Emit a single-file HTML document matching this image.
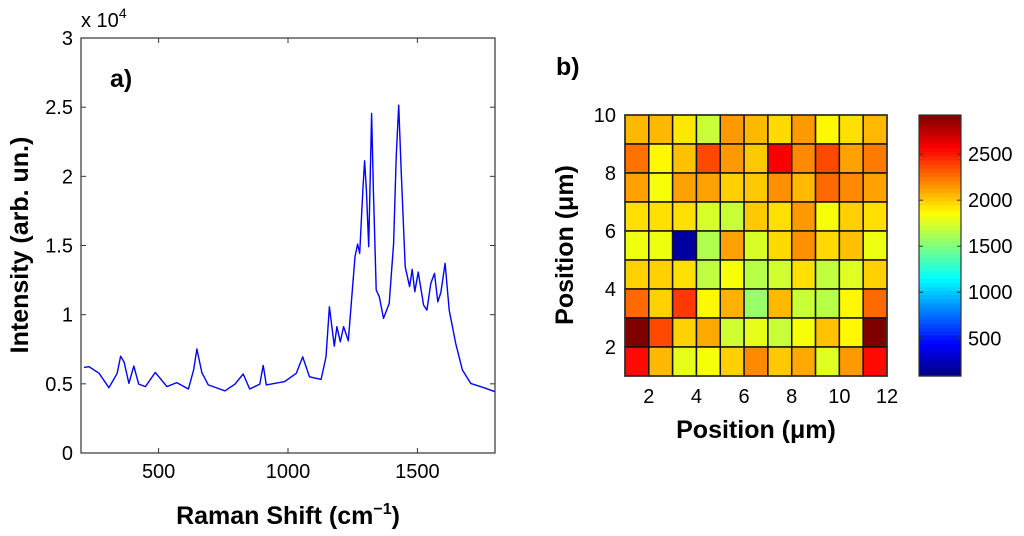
<!DOCTYPE html>
<html><head><meta charset="utf-8">
<style>
html,body{margin:0;padding:0;background:#fff;}
svg text{font-family:"Liberation Sans",Arial,sans-serif;fill:#000;}
.tk{font-size:20px;}
.bt{font-size:25px;font-weight:bold;}
</style></head>
<body>
<svg id="fig" width="1024" height="531" viewBox="0 0 1024 531" xmlns="http://www.w3.org/2000/svg"></svg>
<script>
// ---- Spectrum data ----
const shifts = [212,231,270,308,340,353,366,385,404,423,449,487,532,570,615,635,648,667,692,756,795,827,852,891,904,916,987,1032,1057,1083,1128,1147,1160,1179,1189,1202,1215,1233,1259,1269,1277,1290,1296,1303,1312,1318,1323,1330,1341,1353,1369,1391,1408,1418,1428,1438,1453,1470,1480,1490,1503,1524,1537,1552,1566,1579,1591,1607,1623,1648,1674,1706,1757,1800];
const intensities = [0.619,0.624,0.576,0.472,0.576,0.70,0.66,0.503,0.628,0.498,0.480,0.583,0.480,0.509,0.463,0.600,0.752,0.583,0.492,0.449,0.498,0.571,0.463,0.498,0.633,0.492,0.516,0.576,0.695,0.551,0.532,0.695,1.057,0.772,0.913,0.804,0.913,0.811,1.419,1.510,1.443,1.92,2.112,1.90,1.491,2.02,2.454,1.90,1.178,1.130,0.973,1.081,1.515,2.14,2.514,2.02,1.347,1.202,1.327,1.166,1.308,1.069,1.033,1.226,1.298,1.093,1.161,1.371,1.033,0.792,0.600,0.503,0.472,0.443];
const xTicksA = [500,1000,1500];
const yTicksA = [0,0.5,1,1.5,2,2.5,3];
const yTickLabelsA = ["0","0.5","1","1.5","2","2.5","3"];

// ---- Heatmap data (rows top=y 9-10 to bottom=y 1-2) ----
const mapRows = [
 [2057,2057,1925,1708,2145,2057,1968,2145,1882,1947,2057],
 [2254,1882,2035,2368,2145,2012,2587,2190,2368,2124,2232],
 [2124,1840,2124,2124,1990,2012,2167,2057,2277,2190,2124],
 [1947,1947,1947,1752,1708,2012,1947,2145,1840,1990,1947],
 [1818,1818,180,1643,2124,1752,1968,2167,1968,2035,1818],
 [1990,1990,1947,1686,1840,1665,1731,1947,1686,1774,1990],
 [2277,1990,2411,1882,2080,1575,2057,1708,1665,1882,2277],
 [2940,2368,1990,2100,1731,1796,1708,1840,2035,1882,2940],
 [2542,2057,1796,1840,1990,2190,2012,2100,1774,2145,2542]
];
const xTicksB = [2,4,6,8,10,12];
const yTicksB = [2,4,6,8,10];
const cbTicks = [500,1000,1500,2000,2500];
const cRange = [90,2925];

const NS="http://www.w3.org/2000/svg";
const svg=document.getElementById('fig');
function mk(tag,attrs,parent){const e=document.createElementNS(NS,tag);for(const k in attrs)e.setAttribute(k,attrs[k]);(parent||svg).appendChild(e);return e;}
function txt(s,attrs,parent){const e=mk('text',attrs,parent);e.textContent=s;return e;}

const A={x0:81,x1:495,y0:453,y1:38};
const ax=v=>A.x0+(v-200)/(1800-200)*(A.x1-A.x0);
const ay=v=>A.y0-(v/3)*(A.y0-A.y1);

const gA=mk('g',{});


let d='';
for(let i=0;i<shifts.length;i++){d+=(i?'L':'M')+ax(shifts[i]).toFixed(1)+' '+ay(intensities[i]).toFixed(1);}
const line=mk('path',{d:d,fill:'none',stroke:'#0000ff','stroke-width':1.4,'stroke-linejoin':'round'},gA);


const boxA=mk('rect',{x:A.x0,y:A.y1,width:A.x1-A.x0,height:A.y0-A.y1,fill:'none',stroke:'#333','stroke-width':1.2},gA);


xTicksA.forEach(v=>{
  const x=ax(v);
  mk('line',{x1:x,x2:x,y1:A.y0,y2:A.y0-5,stroke:'#333'},gA);
  mk('line',{x1:x,x2:x,y1:A.y1,y2:A.y1+5,stroke:'#333'},gA);
  const t=txt(String(v),{x:x,y:478,'text-anchor':'middle',class:'tk'},gA);
  
  
});
yTicksA.forEach((v,i)=>{
  const y=ay(v);
  mk('line',{x1:A.x0,x2:A.x0+5,y1:y,y2:y,stroke:'#333'},gA);
  mk('line',{x1:A.x1,x2:A.x1-5,y1:y,y2:y,stroke:'#333'},gA);
  const t=txt(yTickLabelsA[i],{x:73,y:y+7,'text-anchor':'end',class:'tk'},gA);
  
  
});
</script>
<script>
(function(){
const svg=document.getElementById('fig');
svg.insertAdjacentHTML('beforeend',`
<text x="81" y="27" class="tk">x 10<tspan dy="-9" font-size="14">4</tspan></text>
<text x="110" y="87" class="bt">a)</text>
<text transform="translate(28,245) rotate(-90)" text-anchor="middle" class="bt">Intensity (arb. un.)</text>
<text x="288" y="524" text-anchor="middle" class="bt">Raman Shift (cm<tspan dy="-10" font-size="16">−1</tspan><tspan dy="10">)</tspan></text>
<text x="556" y="75" class="bt">b)</text>
<text transform="translate(573,245) rotate(-90)" text-anchor="middle" class="bt">Position (μm)</text>
<text x="756" y="438" text-anchor="middle" class="bt">Position (μm)</text>
`);
})();
</script>
<script>
(function(){
const svg=document.getElementById('fig');
function mk(tag,attrs,parent){const e=document.createElementNS("http://www.w3.org/2000/svg",tag);for(const k in attrs)e.setAttribute(k,attrs[k]);(parent||svg).appendChild(e);return e;}
function txt(s,attrs,parent){const e=mk('text',attrs,parent);e.textContent=s;return e;}
function jet(t){t=Math.max(0,Math.min(1,t));
  const c=x=>Math.round(255*Math.max(0,Math.min(1,x)));
  return `rgb(${c(Math.min(4*t-1.5,-4*t+4.5))},${c(Math.min(4*t-0.5,-4*t+3.5))},${c(Math.min(4*t+0.5,-4*t+2.5))})`;}
const B={x0:625,x1:887,y0:376,y1:115};
const bx=v=>B.x0+(v-1)/11*(B.x1-B.x0);
const by=v=>B.y0-(v-1)/9*(B.y0-B.y1);
const cv=v=>(v-cRange[0])/(cRange[1]-cRange[0]);
const g=mk('g',{});


mapRows.forEach((row,ri)=>{
  const yv=10-ri;
  row.forEach((v,ci)=>{
    const r=mk('rect',{x:bx(ci+1),y:by(yv),width:bx(ci+2)-bx(ci+1),height:by(yv-1)-by(yv),fill:jet(cv(v)),stroke:'#111','stroke-width':1.5},g);
    
    
  });
});
mk('rect',{x:B.x0,y:B.y1,width:B.x1-B.x0,height:B.y0-B.y1,fill:'none',stroke:'#333','stroke-width':1.5},g);
xTicksB.forEach(v=>{
  const t=txt(String(v),{x:bx(v),y:403,'text-anchor':'middle',class:'tk'},g);
  
  
});
yTicksB.forEach(v=>{
  const t=txt(String(v),{x:616,y:by(v)+7,'text-anchor':'end',class:'tk'},g);
  
  
});
const C={x0:919,x1:961,y0:376,y1:115};
const cb=mk('g',{});


const n=64;
for(let i=0;i<n;i++){
  const h=(C.y0-C.y1)/n;
  mk('rect',{x:C.x0,y:C.y0-(i+1)*h,width:C.x1-C.x0,height:h+0.6,fill:jet((i+0.5)/n)},cb);
}
mk('rect',{x:C.x0,y:C.y1,width:C.x1-C.x0,height:C.y0-C.y1,fill:'none',stroke:'#333','stroke-width':1.2},cb);
const cy=v=>C.y0-cv(v)*(C.y0-C.y1);
cbTicks.forEach(v=>{
  const y=cy(v);
  mk('line',{x1:C.x0,x2:C.x0+4,y1:y,y2:y,stroke:'#333'},cb);
  mk('line',{x1:C.x1,x2:C.x1-4,y1:y,y2:y,stroke:'#333'},cb);
  const t=txt(String(v),{x:968,y:y+7,class:'tk'},cb);
  
  
});
})();
</script>
</body></html>
